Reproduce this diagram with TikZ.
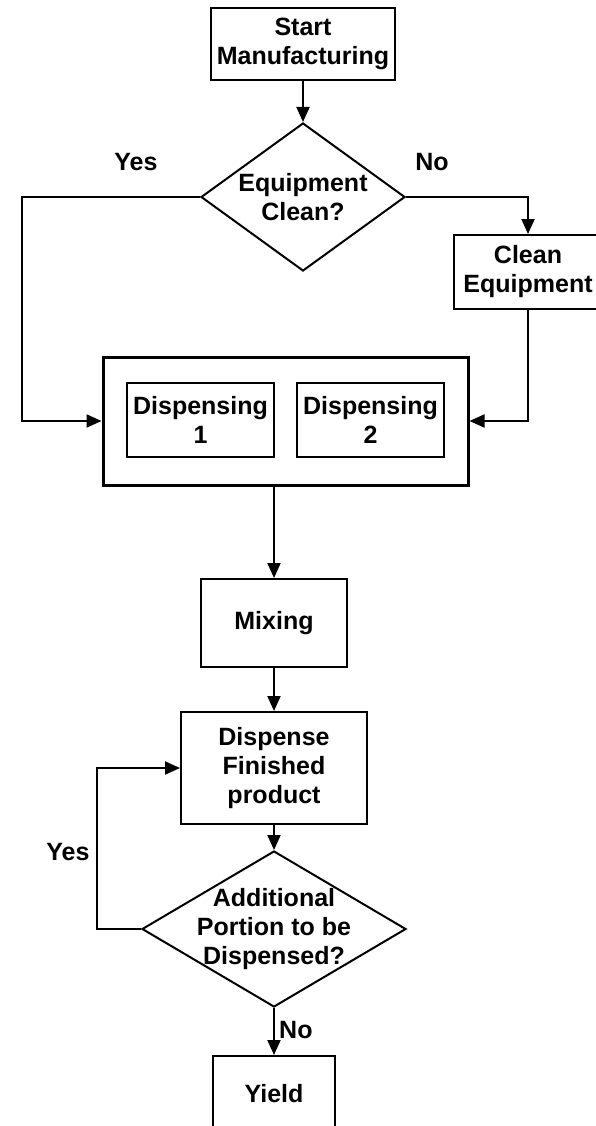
\documentclass[tikz,border=0pt]{standalone}
\usepackage{fontspec}
\setmainfont{Liberation Sans}
\usetikzlibrary{arrows.meta,shapes.geometric,positioning,calc}

\begin{document}
\begin{tikzpicture}[x=1pt, y=-1pt, font=\fontsize{25}{29}\selectfont\bfseries,
    box/.style={draw=black, fill=white, line width=2pt, inner sep=0pt, align=center},
    raute/.style={draw=black, fill=white, line width=2pt, shape=diamond, inner sep=0pt},
    txt/.style={align=center, inner sep=0pt},
    lbl/.style={inner sep=0pt},
    pfeil/.style={draw=black, line width=2pt, -{Triangle[length=15pt, width=13pt]}}]
    % Bildgroesse
        \useasboundingbox[fill=white] (0,0) rectangle (595,1126);

    % Start und Abfrage
        \node[box, minimum width=184pt, minimum height=72pt] (start) at (303,44) {Start\\Manufacturing};
        \node[raute, minimum width=204pt, minimum height=148pt, label={[txt]center:{Equipment\\Clean?}}] (clean) at (303,197) {};
        \node[box, minimum width=148pt, minimum height=74pt] (cleq) at (528,272) {Clean\\Equipment};

    % Dispensing
        \node[box, line width=3pt, minimum width=365pt, minimum height=128pt] (disp) at (285.5,421) {};
        \node[box, minimum width=147pt, minimum height=74pt] (disp1) at (200.5,420) {Dispensing\\1};
        \node[box, minimum width=147pt, minimum height=74pt] (disp2) at (370.5,420) {Dispensing\\2};

    % Mischen und Abfuellen
        \node[box, minimum width=146pt, minimum height=88pt] (mix) at (274,623) {Mixing};
        \node[box, minimum width=186pt, minimum height=112pt] (fin) at (274,768) {Dispense\\Finished\\product};
        \node[raute, minimum width=264pt, minimum height=156pt, label={[txt]center:{Additional\\Portion to be\\Dispensed?}}] (more) at (274,929) {};
        \node[box, minimum width=122pt, minimum height=76pt] (yield) at (274,1094) {Yield};

    % Hilfspunkte
        \coordinate (links) at (22,421);
        \coordinate (zurueck) at (97,768);

    % Verbindungen
        \draw[pfeil] (start) -- (clean);
        \draw[pfeil] (clean.west) -| (links) -- (disp.west);
        \draw[pfeil] (clean.east) -| (cleq.north);
        \draw[pfeil] (cleq.south) |- (disp.east);
        \draw[pfeil] (mix.north |- disp.south) -- (mix.north);
        \draw[pfeil] (mix) -- (fin);
        \draw[pfeil] (fin) -- (more);
        \draw[pfeil] (more.west) -| (zurueck) -- (fin.west);
        \draw[pfeil] (more) -- (yield);

    % Beschriftungen
        \node[lbl] (ja1) at (136,162) {Yes};
        \node[lbl] (nein1) at (432,162) {No};
        \node[lbl] (ja2) at (68,852) {Yes};
        \node[lbl, anchor=west] (nein2) at (279,1030) {No};
\end{tikzpicture}
\end{document}
